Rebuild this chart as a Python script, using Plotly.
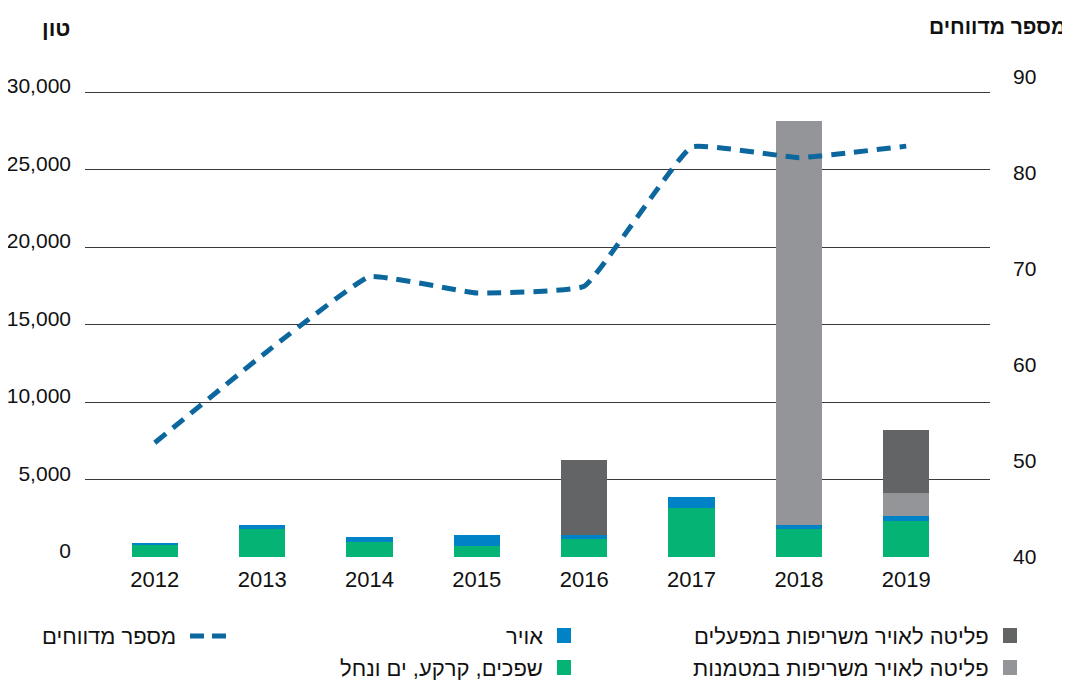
import plotly.graph_objects as go

years = ["2012", "2013", "2014", "2015", "2016", "2017", "2018", "2019"]

# tons, stacked bottom -> top
effluents = [780, 1800, 970, 710, 1160, 3180, 1800, 2320]          # שפכים, קרקע, ים ונחל
air = [70, 250, 320, 700, 260, 690, 260, 330]                       # אויר
landfill_fires = [0, 0, 0, 0, 0, 0, 26070, 1480]                    # משריפות במטמנות
plant_fires = [0, 0, 0, 0, 4840, 0, 0, 4060]                        # משריפות במפעלים

# number of reporters (right axis)
reporters = [51.9, 61.0, 69.2, 67.5, 68.2, 82.7, 81.6, 82.8]

left_ticks = [0, 5000, 10000, 15000, 20000, 25000, 30000]
right_ticks = [40, 50, 60, 70, 80, 90]

GREEN = "#05b474"
BLUE = "#0083c6"
DARK = "#636466"
LIGHT = "#949598"
LINE = "#0b679e"
FONT = "Liberation Sans, DejaVu Sans, sans-serif"

# page body has an 8px margin, so the figure is drawn 8px in from the corner
OFF = 8
W, H = 1070 - OFF, 682 - OFF
# plot area in page pixels
L, R, T, B = 85, 990, 77, 557


def px(x):
    return (x - L) / (R - L)


def py(y):
    return (B - y) / (B - T)


fig = go.Figure()
for vals, col in [(effluents, GREEN), (air, BLUE), (landfill_fires, LIGHT), (plant_fires, DARK)]:
    fig.add_trace(go.Bar(
        x=years, y=vals, marker=dict(color=col, line=dict(width=0)),
        showlegend=False, hoverinfo="y",
    ))

fig.add_trace(go.Scatter(
    x=years, y=reporters, yaxis="y2", mode="lines",
    line=dict(color=LINE, width=5, dash="14px,9px", shape="spline", smoothing=0.3),
    showlegend=False,
))

# legend, drawn by hand (right-to-left)
legend_rows = [
    (636, [(1003, DARK, "פליטה לאויר משריפות במפעלים"),
           (557, BLUE, "אויר")]),
    (668, [(1003, LIGHT, "פליטה לאויר משריפות במטמנות"),
           (557, GREEN, "שפכים, קרקע, ים ונחל")]),
]
for ycen, items in legend_rows:
    for xl, col, label in items:
        fig.add_shape(type="rect", xref="paper", yref="paper",
                      x0=px(xl), x1=px(xl + 14), y0=py(ycen + 7), y1=py(ycen - 8),
                      fillcolor=col, line=dict(width=0))
        fig.add_annotation(xref="paper", yref="paper", x=px(xl - 12), y=py(ycen),
                           text=label, showarrow=False, xanchor="right", yanchor="middle",
                           font=dict(family=FONT, size=22, color="#111"))

fig.add_shape(type="line", xref="paper", yref="paper",
              x0=px(190), x1=px(234), y0=py(636), y1=py(636),
              line=dict(color=LINE, width=5, dash="14px,8px"))
fig.add_annotation(xref="paper", yref="paper", x=px(178), y=py(636),
                   text="מספר מדווחים", showarrow=False, xanchor="right", yanchor="middle",
                   font=dict(family=FONT, size=22, color="#111"))

# axis titles
fig.add_annotation(xref="paper", yref="paper", x=px(72), y=py(28),
                   text="<b>טון</b>", showarrow=False, xanchor="right", yanchor="middle",
                   font=dict(family=FONT, size=22, color="#111"))
fig.add_annotation(xref="paper", yref="paper", x=px(1068), y=py(27),
                   text="<b>מספר מדווחים</b>", showarrow=False, xanchor="right", yanchor="middle",
                   font=dict(family=FONT, size=21, color="#111"))

fig.update_layout(
    width=W, height=H,
    barmode="stack", bargap=0.57,
    plot_bgcolor="white", paper_bgcolor="white",
    margin=dict(l=L - OFF, r=W - (R - OFF), t=T - OFF, b=H - (B - OFF)),
    font=dict(family=FONT, size=21, color="#111"),
    xaxis=dict(
        type="category", range=[-0.65, 7.78], showgrid=False, zeroline=False,
        showline=False, ticks="", ticklabelstandoff=7, tickfont=dict(size=22),
        automargin=False,
    ),
    yaxis=dict(
        range=[0, 30000 * (B - T) / (B - 92)], tickvals=left_ticks,
        tickformat=",d", showgrid=True, gridcolor="#3a3a3a", gridwidth=1,
        zeroline=False, showline=False, ticks="", ticklabelstandoff=13,
        ticklabelshift=-6, automargin=False,
    ),
    yaxis2=dict(
        range=[40, 90], tickvals=right_ticks, overlaying="y", side="right",
        showgrid=False, zeroline=False, showline=False, ticks="",
        ticklabelstandoff=22, automargin=False,
    ),
)

fig.write_html("out.html")
